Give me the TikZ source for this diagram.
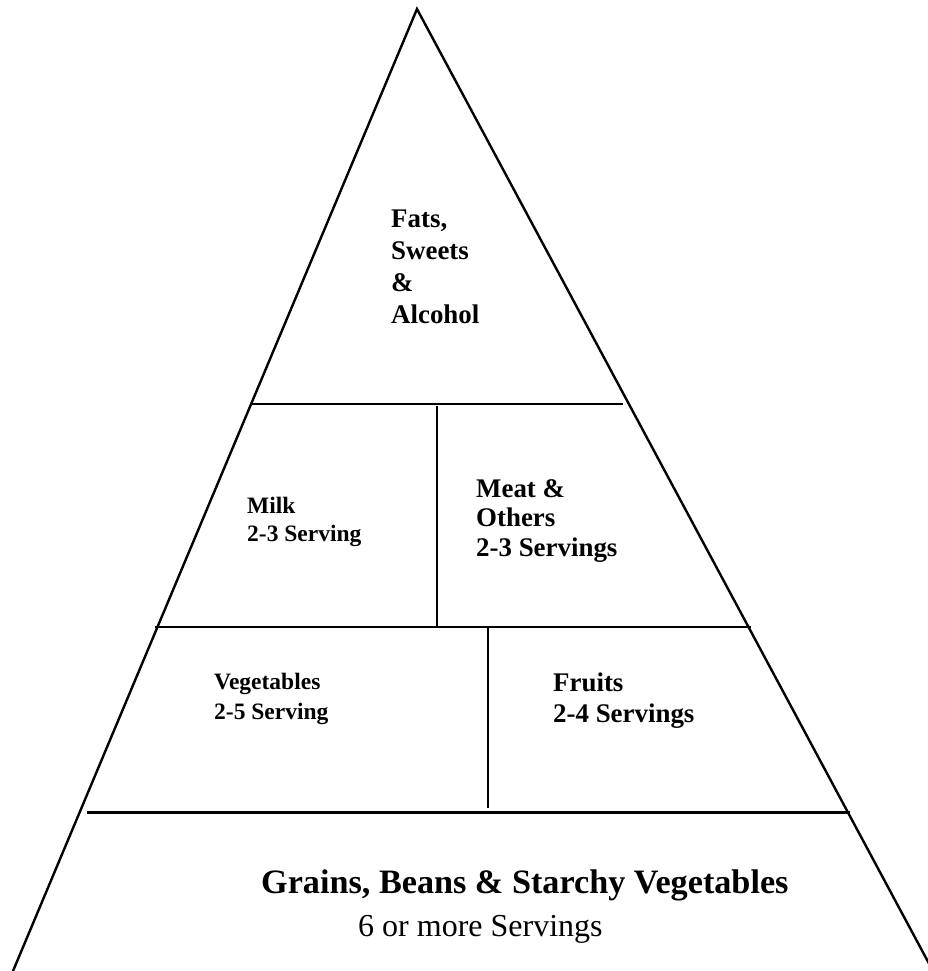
\documentclass[tikz,border=0pt]{standalone}
\usepackage{fontspec}
\setmainfont{Liberation Serif}
\tikzset{
  x=1pt, y=-1pt,
  edge/.style={line width=2.4pt, line join=miter},
  divider/.style={line width=2.4pt},
  lbl/.style={anchor=base west, inner sep=0pt, font=#1},
}
\newcommand{\fsA}{\fontsize{26.9}{32}\selectfont\bfseries}
\newcommand{\fsB}{\fontsize{23.5}{28}\selectfont\bfseries}
\newcommand{\fsC}{\fontsize{34.2}{40}\selectfont\bfseries}
\newcommand{\fsD}{\fontsize{32}{38}\selectfont}
\begin{document}
\begin{tikzpicture}
\useasboundingbox (0,0) rectangle (928,971);
\clip (0,0) rectangle (928,971);
% outline
\coordinate (apex) at (417,9);
\coordinate (bl) at (13,971);
\coordinate (br) at (933,971);
\draw[edge] (bl) -- (apex) -- (br);
% tiers
\coordinate (h1a) at (251,404); \coordinate (h1b) at (623,404);
\coordinate (v1a) at (437,406); \coordinate (v1b) at (437,627);
\coordinate (h2a) at (155,627); \coordinate (h2b) at (751,627);
\coordinate (v2a) at (488,628); \coordinate (v2b) at (488,808);
\coordinate (h3a) at (87,812);  \coordinate (h3b) at (850,812);
\draw[divider] (h1a) -- (h1b);
\draw[divider] (v1a) -- (v1b);
\draw[divider] (h2a) -- (h2b);
\draw[divider] (v2a) -- (v2b);
\draw[divider, line width=3pt] (h3a) -- (h3b);
% labels
\node[lbl=\fsA] (f1) at (391,227) {Fats,};
\node[lbl=\fsA] (f2) at (391,259) {Sweets};
\node[lbl=\fsA] (f3) at (391,291) {\&};
\node[lbl=\fsA] (f4) at (391,323) {Alcohol};
\node[lbl=\fsB] (m1) at (247,513) {Milk};
\node[lbl=\fsB] (m2) at (247,541) {2-3 Serving};
\node[lbl=\fsA] (t1) at (476,497) {Meat \&};
\node[lbl=\fsA] (t2) at (476,526) {Others};
\node[lbl=\fsA] (t3) at (476,556) {2-3 Servings};
\node[lbl=\fsB] (g1) at (214,689) {Vegetables};
\node[lbl=\fsB] (g2) at (214,719) {2-5 Serving};
\node[lbl=\fsA] (r1) at (553,691) {Fruits};
\node[lbl=\fsA] (r2) at (553,722) {2-4 Servings};
\node[lbl=\fsC] (b1) at (261,893) {Grains, Beans \& Starchy Vegetables};
\node[lbl=\fsD] (b2) at (358,936) {6 or more Servings};
\end{tikzpicture}
\end{document}
